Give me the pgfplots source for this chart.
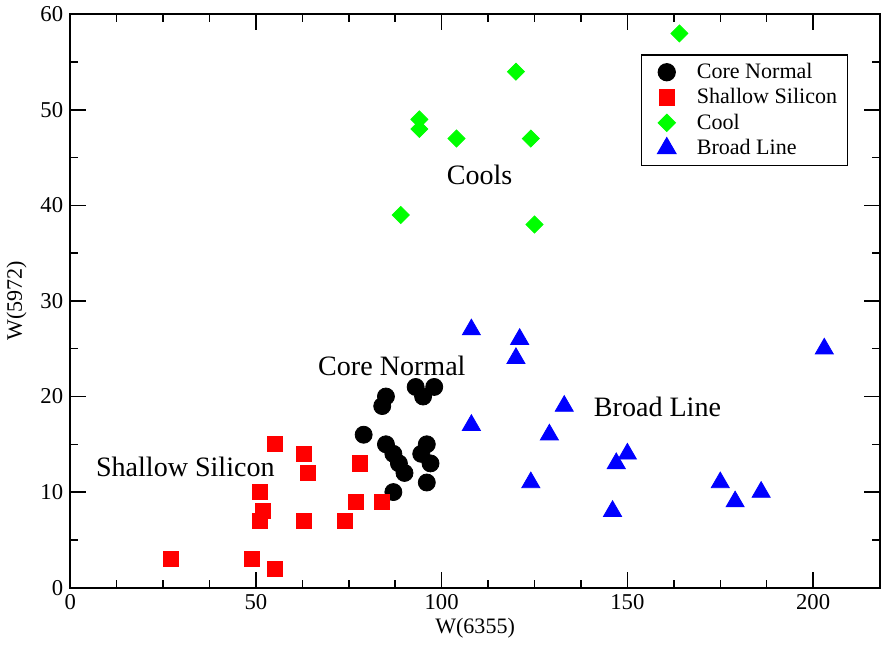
\documentclass[border=0pt]{standalone}
\usepackage{fontspec}
\setmainfont{Liberation Serif}
\usepackage{pgfplots}
\pgfplotsset{compat=1.18}

\begin{document}
\begin{tikzpicture}
\begin{axis}[
  scale only axis,
  width=404pt, height=286pt,
  xmin=0, xmax=218, ymin=0, ymax=60,
  xtick={0,50,...,200}, ytick={0,10,...,60},
  minor x tick num=3, minor y tick num=1,
  tick align=inside,
  major tick length=8pt, minor tick length=4pt,
  axis line style={line width=1pt},
  every tick/.style={black, line width=0.75pt},
  tick label style={font=\fontsize{11.3}{13}\selectfont},
  /pgf/number format/assume math mode=true,
  xlabel={W(6355)}, ylabel={W(5972)},
  label style={font=\fontsize{11}{13}\selectfont},
  xlabel style={yshift=3pt},
  legend style={at={(rel axis cs:0.705,0.93)}, anchor=north west,
    draw=black, line width=0.6pt, font=\fontsize{11}{12.25}\selectfont,
    row sep=-0.5pt, inner xsep=3pt, inner ysep=2pt},
  legend cell align=left,
  legend image code/.code={\path[draw=none, fill=none] (0pt,-1pt) (22.5pt,1pt);
    \draw[#1, only marks] plot coordinates {(9.5pt,0pt)};},
]
\addplot[only marks, mark=*, mark size=4.25pt, black] coordinates {
  (85,20) (84,19) (93,21) (95,20) (98,21) (79,16) (85,15) (87,14)
  (88.5,13) (90,12) (87,10) (96,15) (94.5,14) (97,13) (96,11)
};
\addlegendentry{Core Normal}
\addplot[only marks, mark=square*, mark size=3.75pt, red, fill=red] coordinates {
  (27,3) (49,3) (55,2) (51,10) (52,8) (51,7) (55,15) (63,14) (64,12)
  (63,7) (74,7) (77,9) (78,13) (84,9)
};
\addlegendentry{Shallow Silicon}
\addplot[only marks, mark=square*, mark size=3pt, mark options={rotate=45}, color={rgb,255:red,0;green,255;blue,0}] coordinates {
  (164,58) (120,54) (94,49) (94,48) (104,47) (124,47) (89,39) (125,38)
};
\addlegendentry{Cool}
\addplot[only marks, mark=triangle*, mark size=5.2pt, blue] coordinates {
  (108,27) (121,26) (120,24) (203,25) (133,19) (108,17) (129,16) (150,14)
  (147,13) (124,11) (175,11) (186,10) (179,9) (146,8)
};
\addlegendentry{Broad Line}
\node[anchor=base, font=\fontsize{14}{16}\selectfont] at (axis cs:110.2,42.2) {Cools};
\node[anchor=base, font=\fontsize{14}{16}\selectfont] at (axis cs:86.6,22.2) {Core Normal};
\node[anchor=base, font=\fontsize{14}{16}\selectfont] at (axis cs:31.0,11.6) {Shallow Silicon};
\node[anchor=base, font=\fontsize{14}{16}\selectfont] at (axis cs:158.1,17.9) {Broad Line};
\end{axis}
\end{tikzpicture}
\end{document}
